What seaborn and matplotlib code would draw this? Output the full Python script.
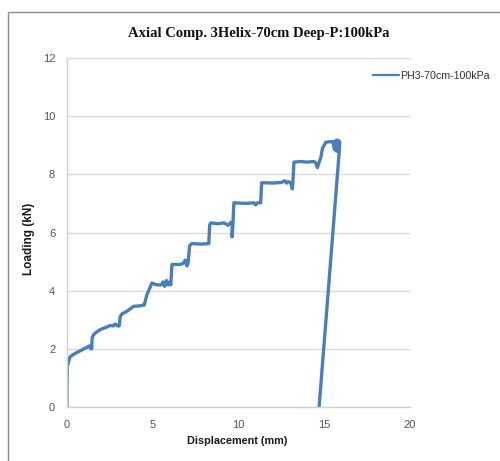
import matplotlib
matplotlib.use("Agg")
import matplotlib.pyplot as plt
import seaborn as sns
import pandas as pd
from matplotlib.patches import Rectangle

title = "Axial Comp. 3Helix-70cm Deep-P:100kPa"
series_name = "PH3-70cm-100kPa"
x_label = "Displacement (mm)"
y_label = "Loading (kN)"
x_ticks = [0, 5, 10, 15, 20]
y_ticks = [0, 2, 4, 6, 8, 10, 12]

displacement = [0.0, 0.0, 0.02, 0.18, 0.5, 0.76, 1.15, 1.3, 1.4, 1.44, 1.47, 1.6, 1.93,
                2.32, 2.5, 2.71, 2.8, 3.0, 3.05, 3.1, 3.2, 3.49, 3.88, 4.27, 4.4, 4.5,
                4.66, 4.95, 5.24, 5.5, 5.6, 5.7, 5.8, 5.9, 6.0, 6.05, 6.12, 6.61, 6.8,
                6.9, 7.0, 7.06, 7.15, 7.29, 7.8, 8.27, 8.32, 8.4, 8.8, 9.15, 9.4, 9.55,
                9.63, 9.63, 9.68, 9.73, 9.8, 10.4, 10.9, 11.0, 11.1, 11.29, 11.35, 11.5,
                12.0, 12.5, 12.7, 12.8, 12.9, 13.04, 13.14, 13.18, 13.23, 13.63, 14.0,
                14.4, 14.5, 14.6, 14.7, 14.8, 14.9, 15.09, 15.3, 15.5, 15.6, 15.65,
                15.7, 15.75, 15.8, 15.85, 15.9, 15.87, 14.7]
loading = [0.0, 0.7, 1.4, 1.73, 1.85, 1.93, 2.05, 2.1, 2.0, 2.0, 2.4, 2.52, 2.66,
           2.75, 2.8, 2.79, 2.85, 2.78, 2.8, 3.1, 3.2, 3.29, 3.46, 3.48, 3.5, 3.5,
           3.86, 4.26, 4.2, 4.2, 4.3, 4.15, 4.35, 4.2, 4.3, 4.2, 4.9, 4.9, 4.95,
           5.05, 4.85, 4.95, 5.55, 5.62, 5.6, 5.62, 6.27, 6.33, 6.3, 6.33, 6.25, 6.35,
           6.3, 5.85, 6.35, 7.02, 7.02, 7.0, 7.02, 6.95, 7.02, 7.02, 7.71, 7.71,
           7.7, 7.72, 7.78, 7.7, 7.75, 7.71, 7.5, 7.8, 8.42, 8.44, 8.42, 8.44,
           8.4, 8.23, 8.42, 8.57, 8.9, 9.1, 9.12, 9.12, 8.85, 9.15, 8.8, 9.18, 8.8,
           9.15, 9.1, 8.75, 0.0]

df = pd.DataFrame({x_label: displacement, y_label: loading, "series": series_name})

sns.set_theme(style="white")
plt.rcParams["font.family"] = ["Liberation Sans", "DejaVu Sans"]

fig = plt.figure(figsize=(5.0, 4.61), dpi=100)
ax = fig.add_axes([67/500, 1 - 407/461, (410-67)/500, (407-58)/461])

sns.lineplot(data=df, x=x_label, y=y_label, hue="series", palette=["#4a7ebb"],
             sort=False, estimator=None, linewidth=2.4, ax=ax, legend=True)

ax.set_xlim(0, 20)
ax.set_ylim(0, 12)
ax.set_xticks(x_ticks)
ax.set_yticks(y_ticks)
ax.yaxis.grid(True, color="#d9d9d9", linewidth=1.0)
ax.set_axisbelow(True)
for s in ["top", "right"]:
    ax.spines[s].set_visible(False)
for s in ["left", "bottom"]:
    ax.spines[s].set_color("#d0d0d0")
    ax.spines[s].set_linewidth(1.0)
ax.tick_params(axis="y", length=0, labelsize=8, colors="#555555", pad=8.5)
ax.tick_params(axis="x", length=0, labelsize=8, colors="#555555", pad=9)

ax.set_xlabel(x_label, fontsize=7.8, fontweight="bold", color="#1a1a1a")
ax.set_ylabel(y_label, fontsize=8.5, fontweight="bold", color="#1a1a1a")
ax.xaxis.set_label_coords(0.496, -(436.0 - 407) / 349)
ax.yaxis.set_label_coords((35 - 67) / 343, (407 - 239) / 349)

leg = ax.legend(loc="center left", bbox_to_anchor=(373/500, 1 - 76/461),
                bbox_transform=fig.transFigure, frameon=False, fontsize=7.7,
                handlelength=2.4, handletextpad=0.1, borderaxespad=0, borderpad=0)
for t in leg.get_texts():
    t.set_color("#333333")
for h in leg.get_lines():
    h.set_linewidth(1.6)

fig.text(259/500, 1 - 33/461, title, ha="center", va="center", fontsize=10.5,
         fontweight="bold", family=["Liberation Serif", "DejaVu Serif"], color="#111111")

fig.patches.append(Rectangle((8/500, -0.1), 1.2, 1 - 12/461 + 0.1, transform=fig.transFigure,
                             fill=False, edgecolor="#8c8c8c", linewidth=1.0))

fig.savefig("out.png", dpi=100)
